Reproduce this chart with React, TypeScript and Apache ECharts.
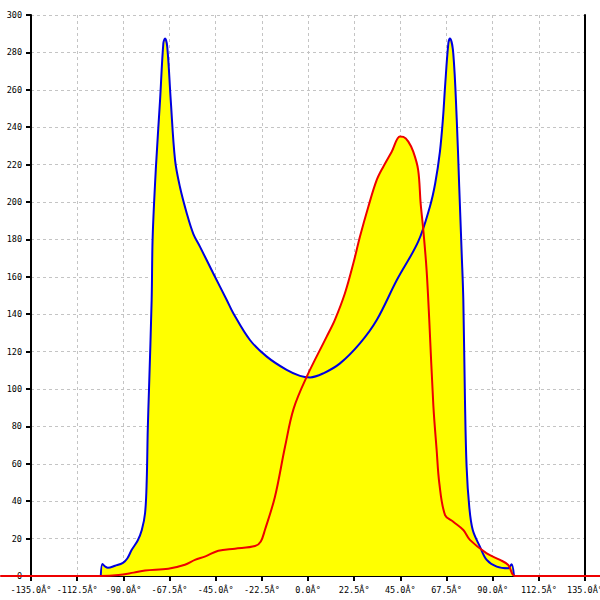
import React, { useEffect, useRef } from "react";
import * as echarts from "echarts";

const X_MIN = -135;
const X_MAX = 135;
const X_STEP = 22.5;
const X_FULL_MIN = -150;
const X_FULL_MAX = 150;
const Y_MIN = 0;
const Y_MAX = 300;
const Y_STEP = 20;
const DEGREE_SUFFIX = "Â°";

const blueSeries: [number, number][] = [
  [-101, 0], [-100.2, 6.4], [-99, 5.2], [-97.5, 4.4], [-94, 5.5], [-90.2, 7],
  [-88, 9.5], [-85.9, 14], [-83, 19], [-81, 24.6], [-79.4, 33.7], [-78.6, 51],
  [-78.1, 78], [-77.5, 99.5], [-76.2, 147.6], [-75.7, 181.4], [-74.1, 218.9],
  [-72.1, 254.5], [-70.5, 284.8], [-69.7, 287.5], [-68.6, 283], [-66.9, 254.5],
  [-64.8, 222.5], [-62.4, 208], [-59.1, 194], [-55.9, 183], [-52.6, 176],
  [-46.2, 161.9], [-39.6, 147.6], [-36.4, 140.5], [-28.3, 126.2], [-20.1, 117.3],
  [-10.4, 110.2], [-3.9, 107], [1.0, 106.2], [7.5, 108.4], [15.6, 113.7],
  [25.3, 124.4], [33.5, 136.9], [43.3, 158.3], [53.7, 178.8], [59.4, 197.5],
  [62, 210], [64.3, 227], [65.8, 245], [66.8, 261.7], [68.4, 284.8],
  [69.2, 287.5], [70.8, 279.5], [72.5, 243.9], [73.7, 208.2], [74.9, 172.6],
  [75.7, 147.6], [76.5, 94], [77.3, 58.4], [78.6, 37], [80.3, 24.6],
  [83.8, 15.7], [87.1, 8.6], [92, 5], [97.6, 4.1], [99.2, 6.3], [100.4, 0],
];

const redSeries: [number, number][] = [
  [-150, 0], [-101, 0], [-92.4, 0.5], [-85, 1.8], [-79.4, 2.9], [-68.1, 3.9],
  [-60, 6], [-55.1, 8.6], [-50, 10.5], [-43.7, 13.5], [-35.6, 14.6],
  [-25.8, 16], [-23, 18.5], [-21, 24.6], [-16.1, 42.4], [-11.2, 69.1],
  [-7, 89.5], [-0.6, 106.6], [9.1, 128], [13.1, 137], [18, 151.2],
  [22.1, 167.2], [25.3, 181.4], [29.4, 197.5], [33.5, 211.8], [36.7, 218.9],
  [40.8, 226.9], [44.8, 235], [46.5, 234.8], [48.9, 232.3], [51.3, 226.9],
  [53.7, 217.1], [54.9, 199.3], [56.2, 185], [57.8, 163.6], [59.1, 136.9],
  [61.1, 91], [62.7, 67.4], [64, 49.6], [66.8, 32.6], [70.8, 29], [75.7, 24.6],
  [78.9, 19.3], [87.1, 12.1], [93.6, 8.6], [97.6, 5.9], [101, 0], [150, 0],
];

const BLUE = "#0000e0";
const RED = "#ee0000";
const YELLOW = "#ffff00";

export default function App() {
  const ref = useRef<HTMLDivElement>(null);
  useEffect(() => {
    if (!ref.current) return;
    const chart = echarts.init(ref.current, null, { renderer: "svg" });
    const W = 600;
    const left = 31;
    const right = 15;
    const plotW = W - left - right;
    const pxPerUnit = plotW / (X_MAX - X_MIN);
    const fullLeft = left - (X_MIN - X_FULL_MIN) * pxPerUnit;
    const fullWidth = (X_FULL_MAX - X_FULL_MIN) * pxPerUnit;
    const fullRight = W - fullLeft - fullWidth;

    const labelFont = {
      fontFamily: "DejaVu Sans Mono",
      fontSize: 8.5,
      color: "#000",
    };
    const split = {
      show: true,
      lineStyle: { color: "#c4c4c4", type: [3, 3] as any, width: 1 },
    };
    const areaCommon = {
      type: "line",
      showSymbol: false,
      smooth: 0.35,
      lineStyle: { width: 0 },
      areaStyle: { color: YELLOW, opacity: 1 },
      z: 2,
      silent: true,
    };
    const lineCommon = {
      type: "line",
      showSymbol: false,
      smooth: 0.35,
      z: 3,
      silent: true,
    };
    chart.setOption({
      animation: false,
      backgroundColor: "#fff",
      grid: [
        {
          left,
          right,
          top: 15,
          bottom: 24,
          containLabel: false,
          outerBoundsMode: "none",
        },
        {
          left: fullLeft,
          right: fullRight,
          top: 15,
          bottom: 24,
          containLabel: false,
          outerBoundsMode: "none",
        },
      ],
      xAxis: [
        {
          type: "value",
          gridIndex: 0,
          min: X_MIN,
          max: X_MAX,
          interval: X_STEP,
          axisLine: { show: true, onZero: false, lineStyle: { color: "#000", width: 1 } },
          axisTick: { show: true, length: 5, lineStyle: { color: "#000", width: 2 } },
          axisLabel: {
            ...labelFont,
            margin: 9,
            formatter: (v: number) => v.toFixed(1) + DEGREE_SUFFIX,
          },
          splitLine: split,
        },
        {
          type: "value",
          gridIndex: 1,
          min: X_FULL_MIN,
          max: X_FULL_MAX,
          show: false,
        },
      ],
      yAxis: [
        {
          type: "value",
          gridIndex: 0,
          min: Y_MIN,
          max: Y_MAX,
          interval: Y_STEP,
          axisLine: { show: true, onZero: false, lineStyle: { color: "#000", width: 2 } },
          axisTick: { show: true, length: 5, lineStyle: { color: "#000", width: 2 } },
          axisLabel: { ...labelFont, margin: 9 },
          splitLine: split,
        },
        {
          type: "value",
          gridIndex: 0,
          position: "right",
          min: Y_MIN,
          max: Y_MAX,
          interval: Y_STEP,
          axisLine: { show: true, onZero: false, lineStyle: { color: "#000", width: 2 } },
          axisTick: { show: false },
          axisLabel: { show: false },
          splitLine: { show: false },
        },
        {
          type: "value",
          gridIndex: 1,
          min: Y_MIN,
          max: Y_MAX,
          show: false,
        },
      ],
      series: [
        { ...areaCommon, name: "blueArea", data: blueSeries, xAxisIndex: 0, yAxisIndex: 0 },
        { ...areaCommon, name: "redArea", data: redSeries, xAxisIndex: 0, yAxisIndex: 0 },
        {
          ...lineCommon,
          name: "blue",
          data: blueSeries,
          xAxisIndex: 0,
          yAxisIndex: 0,
          lineStyle: { color: BLUE, width: 2 },
        },
        {
          ...lineCommon,
          name: "red",
          data: redSeries,
          xAxisIndex: 1,
          yAxisIndex: 2,
          clip: false,
          lineStyle: { color: RED, width: 2 },
        },
      ],
    });
    return () => chart.dispose();
  }, []);
  return (
    <div
      ref={ref}
      style={{ position: "fixed", left: 0, top: 0, width: 600, height: 600 }}
    />
  );
}
